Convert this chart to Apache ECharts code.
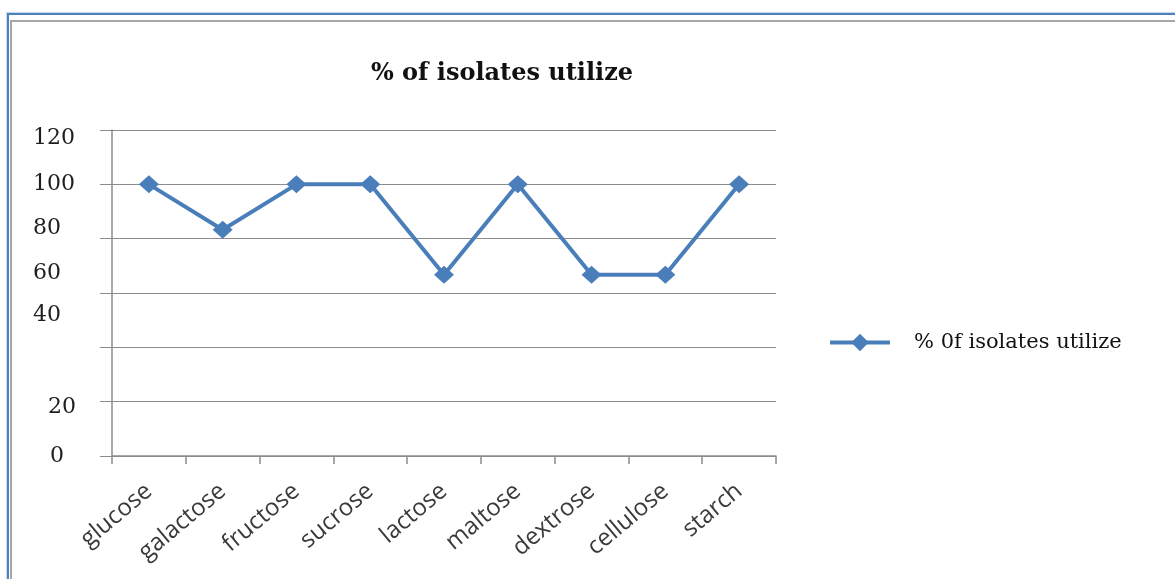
<!DOCTYPE html>
<html>
<head>
<meta charset="utf-8">
<script src="https://cdn.jsdelivr.net/npm/echarts@6/dist/echarts.min.js"></script>
<style>
  html, body { margin: 0; padding: 0; background: #fff; overflow: hidden; }
  #frameOuter { position: absolute; left: 7px; top: 13px; width: 1200px; height: 600px;
                border: 2px solid #4f81bd; box-shadow: 0 0 1px 1px #c9dcf0; }
  #frameInner { position: absolute; left: 10px; top: 20px; width: 1200px; height: 600px;
                border: 2px solid #a6a6a6; }
  #chart { position: absolute; left: 0; top: 0; width: 1175px; height: 579px; }
</style>
</head>
<body>
<div id="frameOuter"></div>
<div id="frameInner"></div>
<div id="chart"></div>
<script>
// Carbon sources tested and share of isolates able to use each one
const sugars = ['glucose', 'galactose', 'fructose', 'sucrose', 'lactose', 'maltose', 'dextrose', 'cellulose', 'starch'];
const utilization = [100, 83.3, 100, 100, 66.7, 100, 66.7, 66.7, 100];
const yTicks = [0, 20, 40, 60, 80, 100, 120];

const chartTitle = '% of isolates utilize';
const seriesName = '% 0f isolates utilize';

// Per-tick label nudges [top, right, bottom, left] padding for the value axis
const tickNudge = {
  120: [16, 0, 0, 0],
  100: [0, 0, 0, 0],
  80: [0, 0, 20, 0],
  60: [0, 0, 40, 0],
  40: [0, 0, 64, 0],
  20: [12, 0, 0, 15],
  0: [0, 0, 0, 17]
};

const rich = {};
yTicks.forEach(v => {
  rich['t' + v] = { padding: tickNudge[v], fontFamily: 'DejaVu Serif', fontSize: 22, color: '#1e1e1e' };
});

const blue = '#4a7ebb';

const chart = echarts.init(document.getElementById('chart'), null, { renderer: 'canvas' });
chart.setOption({
  backgroundColor: 'transparent',
  animation: false,
  title: {
    text: chartTitle,
    left: 497,
    textAlign: 'center',
    top: 57,
    textStyle: { fontFamily: 'DejaVu Serif', fontWeight: 'bold', fontSize: 24, color: '#111' }
  },
  legend: {
    left: 828,
    top: 332,
    padding: 0,
    itemWidth: 60,
    itemHeight: 22,
    data: [{
      name: seriesName,
      lineStyle: { color: blue, width: 4 },
      itemStyle: { color: blue }
    }],
    textStyle: { fontFamily: 'DejaVu Serif', fontSize: 21, color: '#111', padding: [0, 0, 0, 19] }
  },
  grid: { left: 112, right: 399, top: 130, bottom: 123, containLabel: false },
  xAxis: {
    type: 'category',
    data: sugars,
    boundaryGap: true,
    axisLine: { lineStyle: { color: '#8c8c8c', width: 1.5 } },
    axisTick: { show: true, alignWithLabel: false, length: 8, lineStyle: { color: '#8c8c8c', width: 1.5 } },
    axisLabel: {
      rotate: 40,
      interval: 0,
      margin: 32,
      fontFamily: 'Open Sans',
      fontSize: 24,
      color: '#3a3a3a'
    }
  },
  yAxis: {
    type: 'value',
    min: 0,
    max: 120,
    interval: 20,
    axisLine: { show: true, lineStyle: { color: '#8c8c8c', width: 1.5 } },
    axisTick: { show: true, length: 12, lineStyle: { color: '#8c8c8c' } },
    splitLine: { lineStyle: { color: '#8c8c8c', width: 1 } },
    axisLabel: {
      align: 'left',
      margin: 79,
      formatter: v => '{t' + v + '|' + v + '}',
      rich: rich
    }
  },
  series: [{
    name: seriesName,
    type: 'line',
    data: utilization,
    symbol: 'diamond',
    symbolSize: [20, 18],
    lineStyle: { color: blue, width: 4 },
    itemStyle: { color: blue }
  }]
});
</script>
</body>
</html>
